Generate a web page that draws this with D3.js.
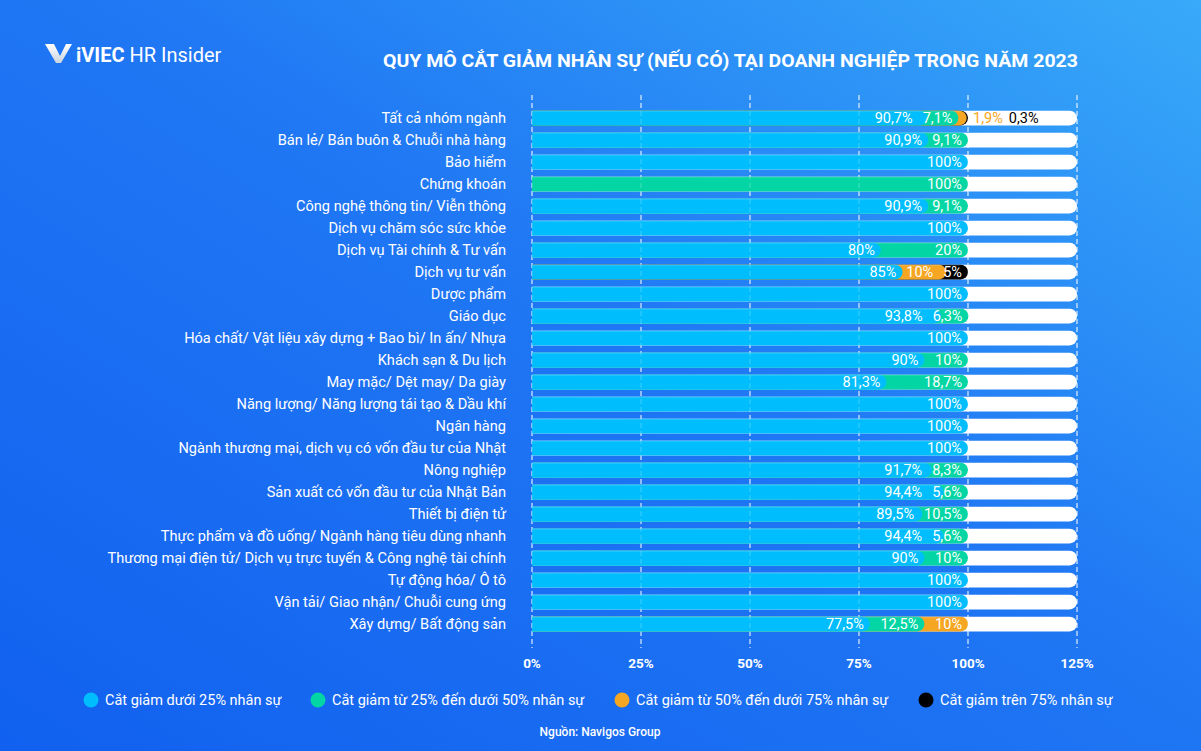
<!DOCTYPE html>
<html>
<head>
<meta charset="utf-8">
<script src="https://cdn.jsdelivr.net/npm/d3@7/dist/d3.min.js"></script>
<style>
html,body{margin:0;padding:0;background:#1a6ff2;}
svg{display:block;font-family:Roboto,"Noto Sans",sans-serif;}
</style>
</head>
<body>
<svg id="chart" width="1201" height="751"></svg>
<script>
const categories = [
  "Tất cả nhóm ngành",
  "Bán lẻ/ Bán buôn & Chuỗi nhà hàng",
  "Bảo hiểm",
  "Chứng khoán",
  "Công nghệ thông tin/ Viễn thông",
  "Dịch vụ chăm sóc sức khỏe",
  "Dịch vụ Tài chính & Tư vấn",
  "Dịch vụ tư vấn",
  "Dược phẩm",
  "Giáo dục",
  "Hóa chất/ Vật liệu xây dựng + Bao bì/ In ấn/ Nhựa",
  "Khách sạn & Du lịch",
  "May mặc/ Dệt may/ Da giày",
  "Năng lượng/ Năng lượng tái tạo & Dầu khí",
  "Ngân hàng",
  "Ngành thương mại, dịch vụ có vốn đầu tư của Nhật",
  "Nông nghiệp",
  "Sản xuất có vốn đầu tư của Nhật Bản",
  "Thiết bị điện tử",
  "Thực phẩm và đồ uống/ Ngành hàng tiêu dùng nhanh",
  "Thương mại điện tử/ Dịch vụ trực tuyến & Công nghệ tài chính",
  "Tự động hóa/ Ô tô",
  "Vận tải/ Giao nhận/ Chuỗi cung ứng",
  "Xây dựng/ Bất động sản"
];
const seriesNames = [
  "Cắt giảm dưới 25% nhân sự",
  "Cắt giảm từ 25% đến dưới 50% nhân sự",
  "Cắt giảm từ 50% đến dưới 75% nhân sự",
  "Cắt giảm trên 75% nhân sự"
];
const under25 = [90.7, 90.9, 100, 0, 90.9, 100, 80, 85, 100, 93.8, 100, 90, 81.3, 100, 100, 100, 91.7, 94.4, 89.5, 94.4, 90, 100, 100, 77.5];
const from25to50 = [7.1, 9.1, 0, 100, 9.1, 0, 20, 0, 0, 6.3, 0, 10, 18.7, 0, 0, 0, 8.3, 5.6, 10.5, 5.6, 10, 0, 0, 12.5];
const from50to75 = [1.9, 0, 0, 0, 0, 0, 0, 10, 0, 0, 0, 0, 0, 0, 0, 0, 0, 0, 0, 0, 0, 0, 0, 10];
const over75 = [0.3, 0, 0, 0, 0, 0, 0, 5, 0, 0, 0, 0, 0, 0, 0, 0, 0, 0, 0, 0, 0, 0, 0, 0];
const xTicks = [0, 25, 50, 75, 100, 125];
const colors = ["#00bdfd", "#03d6a4", "#f5a623", "#000000"];

const series = [under25, from25to50, from50to75, over75];
const fmt = v => String(v).replace(".", ",") + "%";

const svg = d3.select("#chart");
const W = 1201, H = 751;

// background
const defs = svg.append("defs");
const grad = defs.append("linearGradient").attr("id", "bg")
  .attr("x1", "0").attr("y1", "1").attr("x2", "1").attr("y2", "0");
grad.append("stop").attr("offset", "0").attr("stop-color", "#1160ef");
grad.append("stop").attr("offset", "0.55").attr("stop-color", "#2078f4");
grad.append("stop").attr("offset", "1").attr("stop-color", "#38aaf9");
svg.append("rect").attr("width", W).attr("height", H).attr("fill", "url(#bg)");

const logoGrad = defs.append("linearGradient").attr("id", "logo")
  .attr("x1", "0").attr("y1", "0").attr("x2", "0").attr("y2", "1");
logoGrad.append("stop").attr("offset", "0").attr("stop-color", "#ffffff");
logoGrad.append("stop").attr("offset", "1").attr("stop-color", "#c9d3df");

// logo
svg.append("path")
  .attr("d", "M45,44 L54,44 L60,56 L66,44 L72,44 L61,63 L56,63 Z")
  .attr("fill", "url(#logo)");
const logo = svg.append("text").attr("x", 76).attr("y", 62)
  .attr("fill", "#fff").attr("font-size", 20);
logo.append("tspan").attr("font-weight", 700).text("iVIEC");
logo.append("tspan").attr("font-weight", 400).text(" HR Insider");

// title
svg.append("text")
  .attr("x", 383).attr("y", 67)
  .attr("fill", "#fff").attr("font-size", 18).attr("font-weight", 700)
  .attr("textLength", 695).attr("lengthAdjust", "spacingAndGlyphs")
  .text("QUY MÔ CẮT GIẢM NHÂN SỰ (NẾU CÓ) TẠI DOANH NGHIỆP TRONG NĂM 2023");

// scales
const x = d3.scaleLinear().domain([0, 125]).range([532, 1077]);
const y = d3.scaleBand().domain(categories).range([103.4, 638.7]).paddingInner(0.33).paddingOuter(0.33);
const bh = y.bandwidth();
const r = bh / 2;

function roundRight(x0, x1, yy) {
  const w = x1 - x0;
  const rr = Math.min(r, w);
  return `M${x0},${yy} L${x1 - rr},${yy} A${rr},${r} 0 0 1 ${x1},${yy + r} A${rr},${r} 0 0 1 ${x1 - rr},${yy + bh} L${x0},${yy + bh} Z`;
}

// gridlines (under)
const grid = svg.append("g");
grid.selectAll("line").data(xTicks).join("line")
  .attr("x1", d => x(d)).attr("x2", d => x(d))
  .attr("y1", 95).attr("y2", 648)
  .attr("stroke", "#fff").attr("stroke-width", 1)
  .attr("stroke-dasharray", "5,3").attr("opacity", 0.9);

// category labels
svg.append("g").selectAll("text").data(categories).join("text")
  .attr("x", 506).attr("y", d => y(d) + r)
  .attr("dy", "0.36em").attr("text-anchor", "end")
  .attr("fill", "#fff").attr("font-size", 14.6)
  .text(d => d);

// bars
const bars = svg.append("g");
const labels = svg.append("g");
categories.forEach((cat, i) => {
  const yy = y(cat);
  const g = bars.append("g");
  // white track
  g.append("path").attr("d", roundRight(x(0), x(125), yy)).attr("fill", "#fff");
  const vals = series.map(s => s[i]);
  const ends = [];
  let acc = 0;
  vals.forEach(v => { acc += v; ends.push(acc); });
  for (let k = vals.length - 1; k >= 0; k--) {
    if (vals[k] <= 0) continue;
    g.append("path").attr("d", roundRight(x(0), x(ends[k]), yy))
      .attr("fill", colors[k]);
  }
  // subtle lighter top edge
  g.append("line").attr("x1", x(0)).attr("x2", x(ends[ends.length - 1]) - r)
    .attr("y1", yy + 0.5).attr("y2", yy + 0.5)
    .attr("stroke", "rgba(255,255,255,0.18)").attr("stroke-width", 1);
  // labels inside
  let nextStart = Infinity;
  for (let k = vals.length - 1; k >= 0; k--) {
    if (vals[k] < 3) continue;
    const t = labels.append("text")
      .attr("y", yy + r).attr("dy", "0.36em")
      .attr("text-anchor", "end").attr("fill", "#fff")
      .attr("font-size", 14.5).text(fmt(vals[k]));
    const w = t.node().getComputedTextLength();
    const right = Math.min(x(ends[k]) - 6, nextStart - 10);
    t.attr("x", right);
    nextStart = right - w;
  }
  // labels outside for tiny segments
  let cursor = x(ends[ends.length - 1]) + 5;
  for (let k = 0; k < vals.length; k++) {
    if (vals[k] <= 0 || vals[k] >= 3) continue;
    const t = labels.append("text")
      .attr("x", cursor).attr("y", yy + r).attr("dy", "0.36em")
      .attr("fill", k === 3 ? "#000" : colors[k])
      .attr("font-size", 14.5).text(fmt(vals[k]));
    cursor += t.node().getComputedTextLength() + 6;
  }
});

// faint gridlines over bars
svg.append("g").selectAll("line").data(xTicks).join("line")
  .attr("x1", d => x(d)).attr("x2", d => x(d))
  .attr("y1", 95).attr("y2", 648)
  .attr("stroke", "#fff").attr("stroke-width", 1)
  .attr("stroke-dasharray", "5,3").attr("opacity", 0.25);

// x axis labels
svg.append("g").selectAll("text").data(xTicks).join("text")
  .attr("x", d => x(d)).attr("y", 668)
  .attr("text-anchor", "middle").attr("fill", "#fff")
  .attr("font-size", 13.5).attr("font-weight", 700)
  .text(d => d + "%");

// legend
const legendX = [91, 318, 622, 926];
const lg = svg.append("g");
seriesNames.forEach((name, k) => {
  lg.append("circle").attr("cx", legendX[k]).attr("cy", 700).attr("r", 7.5)
    .attr("fill", colors[k]);
  lg.append("text").attr("x", legendX[k] + 14).attr("y", 700).attr("dy", "0.36em")
    .attr("fill", "#fff").attr("font-size", 14.5).text(name);
});

// source
svg.append("text").attr("x", 600).attr("y", 736)
  .attr("text-anchor", "middle").attr("fill", "#fff")
  .attr("font-size", 12).attr("font-weight", 500)
  .text("Nguồn: Navigos Group");
</script>
</body>
</html>
